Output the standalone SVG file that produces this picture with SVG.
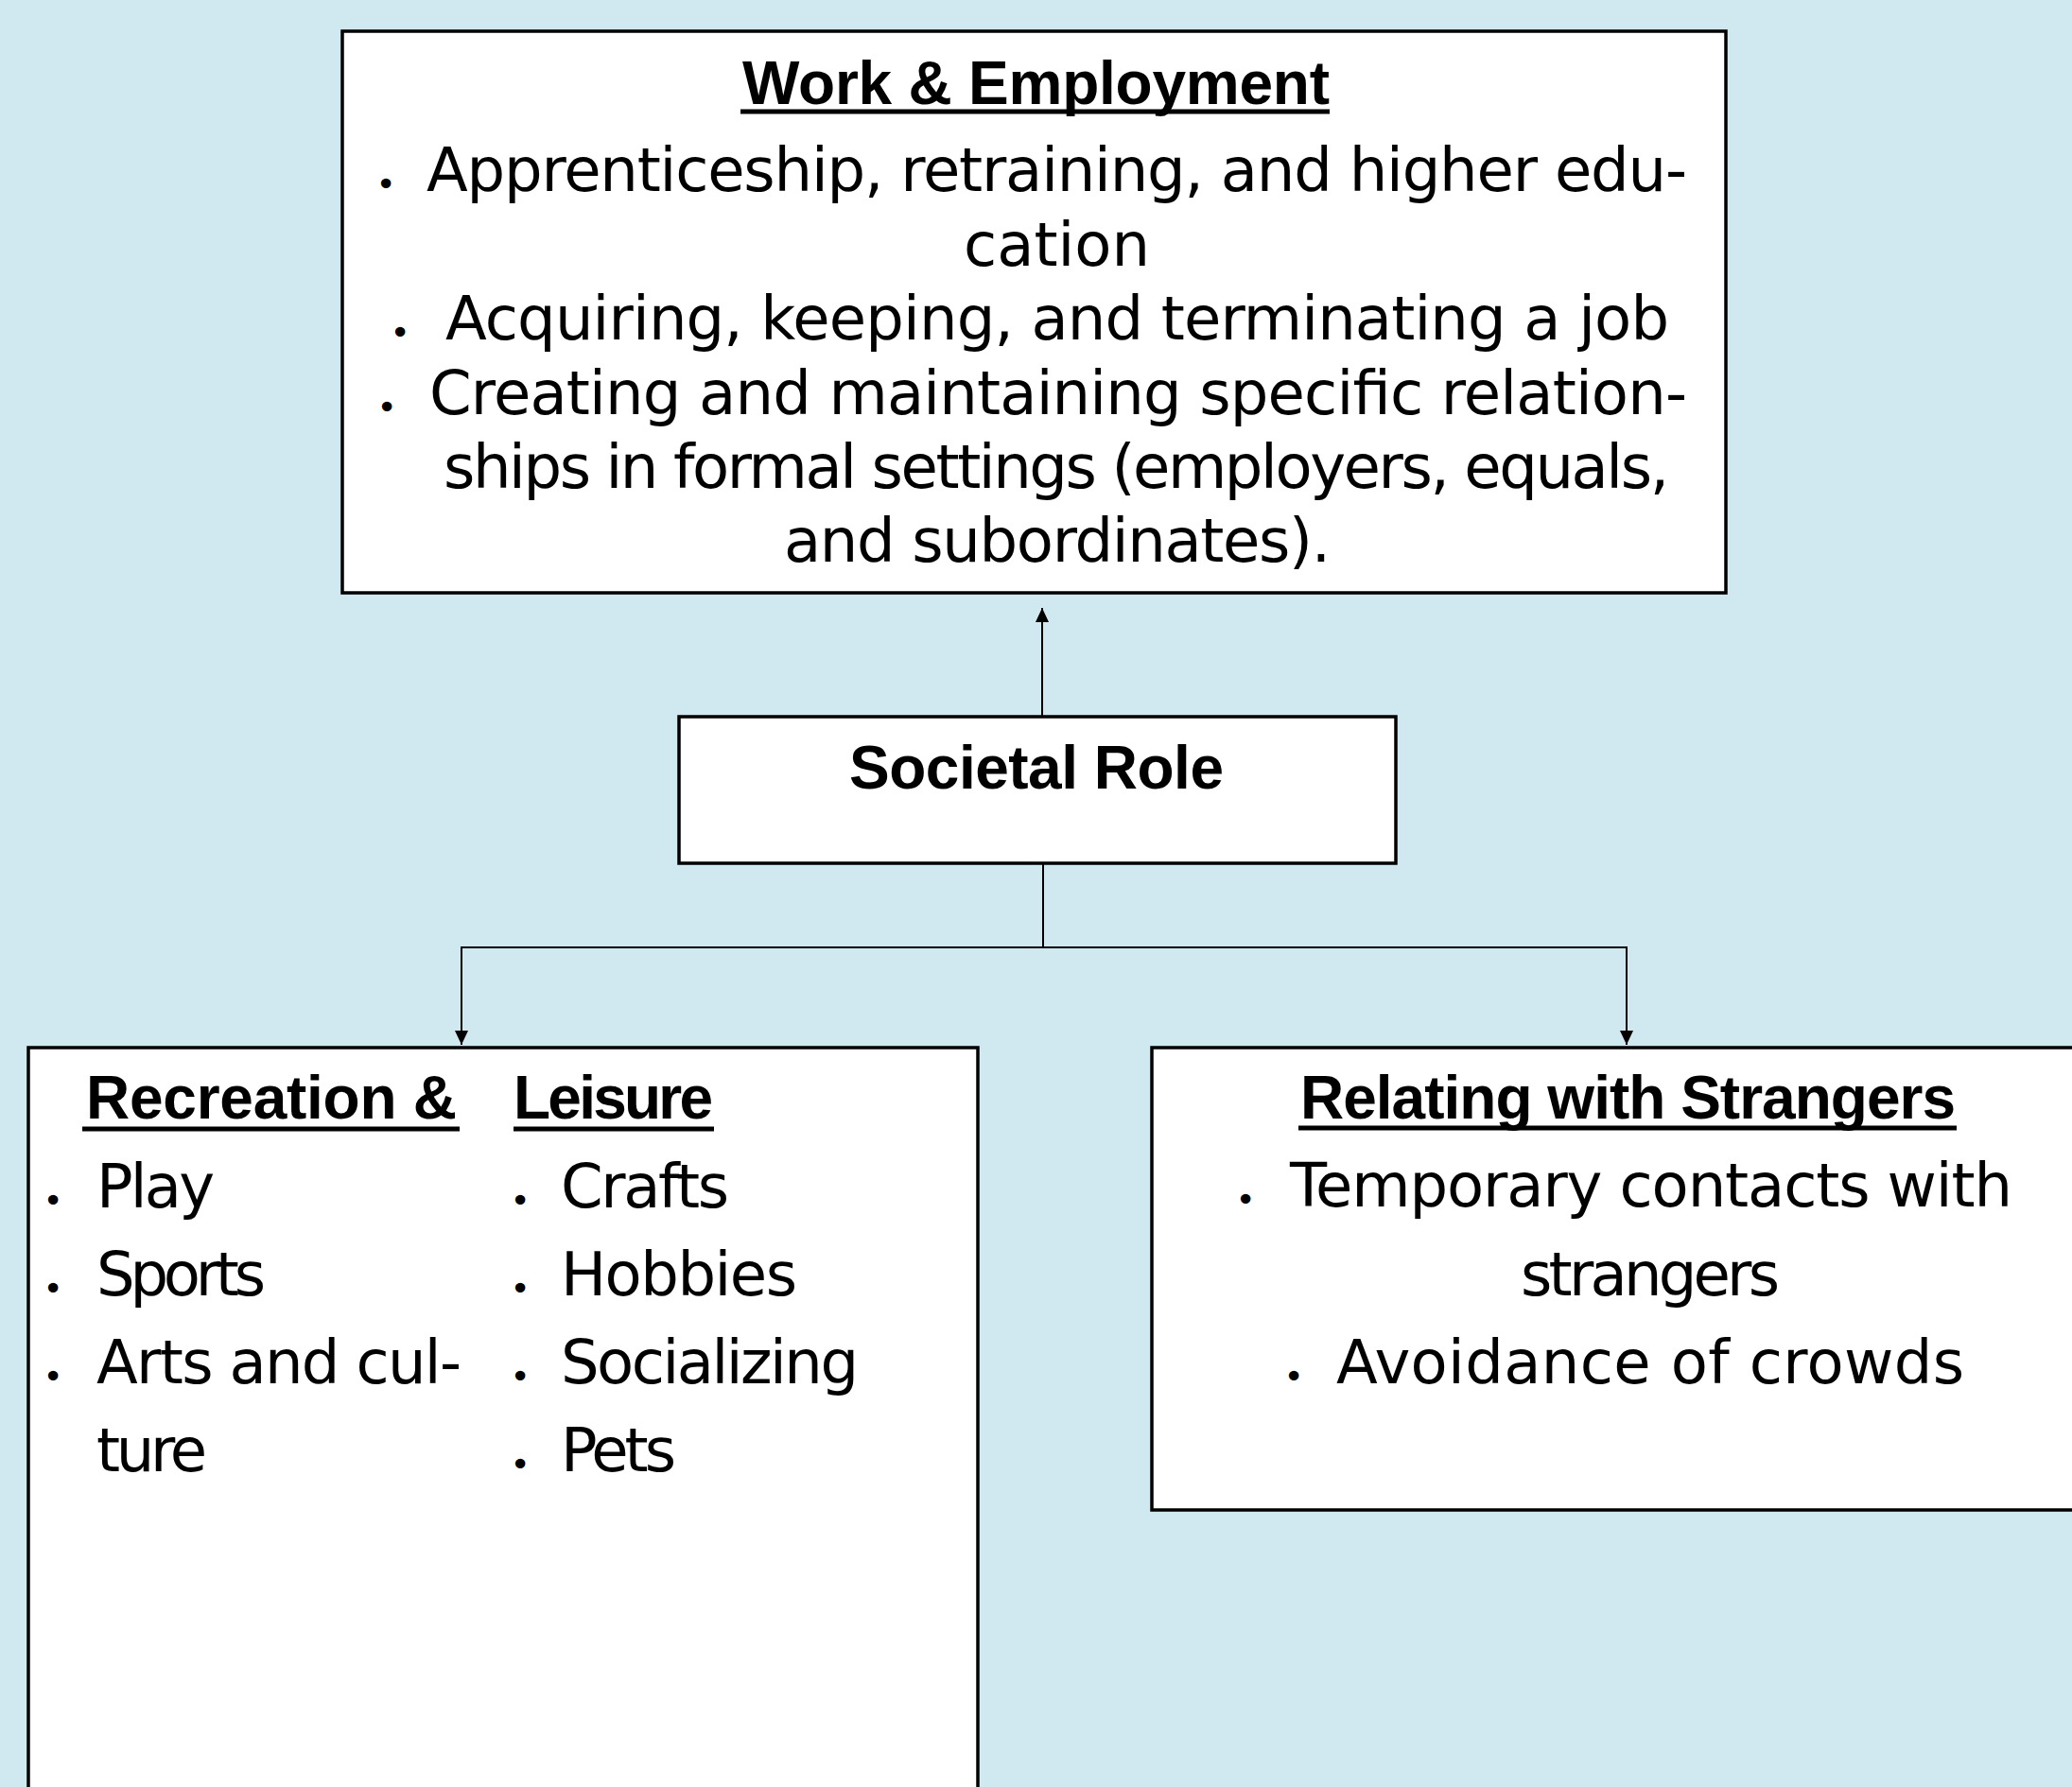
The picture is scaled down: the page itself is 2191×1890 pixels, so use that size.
<svg xmlns="http://www.w3.org/2000/svg" width="2191" height="1890" viewBox="0 0 2191 1890">
<style>
.bg{fill:#D0E8EF}
.box{fill:#FFFFFF;stroke:#000000;stroke-width:3.5}
.t{font-family:"DejaVu Sans","Liberation Sans",sans-serif;font-size:64px;fill:#000000}
.h{font-family:"Liberation Sans",Arial,sans-serif;font-weight:bold;font-size:64px;fill:#000000}
.b{font-family:"DejaVu Sans","Liberation Sans",sans-serif;font-size:36px;fill:#000000;text-anchor:middle}
.ul{stroke:#000000;stroke-width:5}
.con{fill:none;stroke:#000000;stroke-width:2}
</style>
<defs>
<marker id="ah" viewBox="0 0 15 14" refX="15" refY="7" markerWidth="15" markerHeight="14" markerUnits="userSpaceOnUse" orient="auto">
<path d="M0,0 L15,7 L0,14 z" fill="#000000"/>
</marker>
</defs>
<rect class="bg" x="0" y="0" width="2191" height="1890"/>
<g id="connectors">
<path class="con" d="M1102,757 V643" marker-end="url(#ah)"/>
<path class="con" d="M1103,913 V1002"/>
<path class="con" d="M1103,1002 H488 V1105" marker-end="url(#ah)"/>
<path class="con" d="M1103,1002 H1720 V1105" marker-end="url(#ah)"/>
</g>
<g id="work">
<rect class="box" x="362" y="33" width="1463" height="594"/>
<text class="h" x="785" y="110" textLength="621">Work &amp; Employment</text>
<line class="ul" x1="783" y1="118" x2="1406" y2="118"/>
<text class="b" x="408" y="207">•</text>
<text class="t" x="451" y="202" textLength="1333">Apprenticeship, retraining, and higher edu-</text>
<text class="t" x="1019" y="281" textLength="197">cation</text>
<text class="b" x="423" y="364">•</text>
<text class="t" x="471" y="359" textLength="1294">Acquiring, keeping, and terminating a job</text>
<text class="b" x="409" y="443">•</text>
<text class="t" x="454" y="438" textLength="1330">Creating and maintaining specific relation-</text>
<text class="t" x="469" y="516" textLength="1296">ships in formal settings (employers, equals,</text>
<text class="t" x="829" y="594" textLength="578">and subordinates).</text>
</g>
<g id="societal-role">
<rect class="box" x="718" y="758" width="758" height="155"/>
<text class="h" x="898" y="834" textLength="396">Societal Role</text>
</g>
<g id="recreation">
<rect class="box" x="30" y="1108" width="1004" height="820"/>
<text class="h" x="91" y="1183" textLength="392">Recreation &amp;</text>
<line class="ul" x1="87" y1="1194" x2="486" y2="1194"/>
<text class="h" x="543" y="1183" textLength="211">Leisure</text>
<line class="ul" x1="543" y1="1194" x2="755" y2="1194"/>
<text class="b" x="56" y="1282">•</text>
<text class="t" x="102" y="1277" textLength="125">Play</text>
<text class="b" x="56" y="1375">•</text>
<text class="t" x="102" y="1370" textLength="179">Sports</text>
<text class="b" x="56" y="1468">•</text>
<text class="t" x="102" y="1463" textLength="386">Arts and cul-</text>
<text class="t" x="102" y="1556" textLength="117">ture</text>
<text class="b" x="550" y="1282">•</text>
<text class="t" x="593" y="1277" textLength="178">Crafts</text>
<text class="b" x="550" y="1375">•</text>
<text class="t" x="593" y="1370" textLength="250">Hobbies</text>
<text class="b" x="550" y="1468">•</text>
<text class="t" x="593" y="1463" textLength="315">Socializing</text>
<text class="b" x="550" y="1561">•</text>
<text class="t" x="593" y="1556" textLength="122">Pets</text>
</g>
<g id="strangers">
<rect class="box" x="1218" y="1108" width="1010" height="489"/>
<text class="h" x="1375" y="1183" textLength="693">Relating with Strangers</text>
<line class="ul" x1="1373" y1="1193" x2="2069" y2="1193"/>
<text class="b" x="1317" y="1281">•</text>
<text class="t" x="1364" y="1276" textLength="764">Temporary contacts with</text>
<text class="t" x="1608" y="1370" textLength="274">strangers</text>
<text class="b" x="1368" y="1468">•</text>
<text class="t" x="1413" y="1463" textLength="664">Avoidance of crowds</text>
</g>
</svg>
